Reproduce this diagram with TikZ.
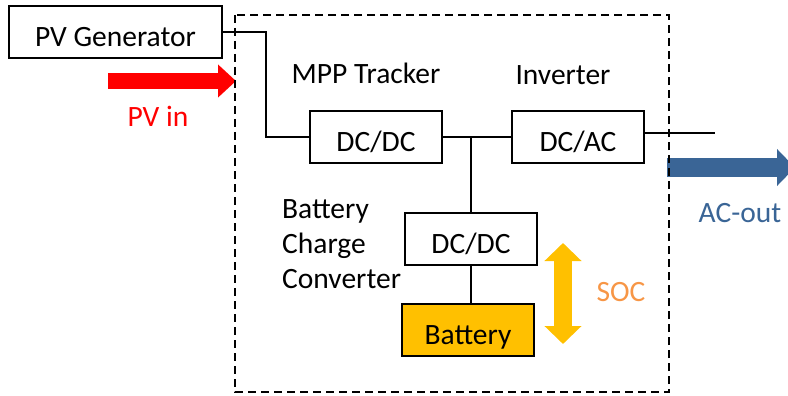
\documentclass[tikz,border=0pt]{standalone}
\usepackage{fontspec}
\setmainfont{Carlito}
\usetikzlibrary{arrows.meta, positioning, calc}
\definecolor{cred}{HTML}{FF0000}
\definecolor{cblue}{HTML}{3A6596}
\definecolor{cgold}{HTML}{FFC000}
\definecolor{corange}{HTML}{F79646}
\tikzset{
  every picture/.style={font=\fontsize{29.5}{35}\selectfont, line width=2.4pt},
  box/.style={draw=black, fill=#1, line width=2pt, minimum width=132pt, minimum height=52pt,
    inner sep=0pt, text height=29pt, text depth=0pt},
  box/.default=white,
  lbl/.style={inner sep=0pt, align=left},
  fat/.style={line width=#1, line cap=butt},
  frame/.style={draw=black, line width=1.8pt, dash pattern=on 8pt off 5pt},
}

\begin{document}
\begin{tikzpicture}[x=1pt, y=-1pt]
  \useasboundingbox (0,0) rectangle (788,396);
  % blocks
  \node[box, minimum width=213pt] (gen) at (115.5,32) {PV Generator};
  \node[box] (mpp) at (376,137) {DC/DC};
  \node[box] (inv) at (578,137) {DC/AC};
  \node[box] (bcc) at (471,239) {DC/DC};
  \node[box=cgold] (bat) at (468,330) {Battery};
  % labels
  \node[lbl] (mpplbl) at (366,73) {MPP Tracker};
  \node[lbl] (invlbl) at (563,75.5) {Inverter};
  \node[lbl, anchor=north west] (bcclbl) at (281,198) {Battery\\Charge\\Converter};
  \node[lbl, text=cred] (pvin) at (158,116) {PV in};
  \node[lbl, text=cblue] (acout) at (740,213.5) {AC-out};
  \node[lbl, text=corange] (soc) at (621,292) {SOC};
  % wiring
  \coordinate (bend) at (266,137);
  \coordinate (tee) at (471,137);
  \coordinate (acend) at (715,133);
  \draw (gen.east) -| (bend) -- (mpp.west);
  \draw (mpp.east) -- (inv.west);
  \draw (tee) -- (bcc.north);
  \draw (bcc.south) -- (bcc.south |- bat.north);
  \draw (inv.east |- acend) -- (acend);
  % power flow arrows
  \coordinate (pvs) at (108,81);
  \coordinate (pve) at (236,81);
  \coordinate (acs) at (667,167.5);
  \coordinate (ace) at (795,167.5);
  \coordinate (soctop) at (563,243);
  \coordinate (socbot) at (563,344);
  \draw[fat=16pt, cred, -{Triangle[length=18pt, width=32pt]}] (pvs) -- (pve);
  \draw[fat=19pt, cblue, -{Triangle[length=18pt, width=36pt]}] (acs) -- (ace);
  \draw[fat=18pt, cgold, {Triangle[length=18pt, width=36pt]}-{Triangle[length=18pt, width=36pt]}] (soctop) -- (socbot);
  % system boundary
  \draw[frame] (235,15) rectangle (669,392);
\end{tikzpicture}
\end{document}
